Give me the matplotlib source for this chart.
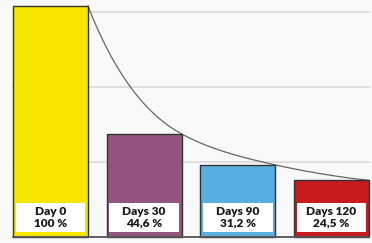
import numpy as np
import matplotlib
matplotlib.use("Agg")
import matplotlib.pyplot as plt
from matplotlib.patches import Rectangle

categories = ["Day 0", "Days 30", "Days 90", "Days 120"]
values = [100, 44.6, 31.2, 24.5]
value_labels = ["100 %", "44,6 %", "31,2 %", "24,5 %"]
colors = ["#f6e500", "#93557f", "#5aafe1", "#c71b1e"]
grid_values = [32.5, 65, 97.4]

W, H = 372, 243
fig = plt.figure(figsize=(W / 100, H / 100), dpi=100)
fig.patch.set_facecolor("#f9f9f9")
ax = fig.add_axes([13 / W, 6 / H, 356 / W, 231 / H])
ax.set_facecolor("#f9f9f9")

bw = 0.8
x = np.arange(len(values))
ax.set_xlim(-0.4, len(values) - 0.6)
ax.set_ylim(0, 100)

for g in grid_values:
    ax.axhline(g, color="#d9d9d9", lw=1.2, zorder=0, clip_on=False)

ax.bar(x, values, width=bw, color=colors, edgecolor="#333333", linewidth=1.0, zorder=2, clip_on=False)

# smooth monotone curve through the top-right corners
xs = x + bw / 2
ys = np.array(values, dtype=float)

def pchip(xk, yk, xq):
    h = np.diff(xk)
    d = np.diff(yk) / h
    n = len(xk)
    m = np.zeros(n)
    for k in range(1, n - 1):
        if d[k - 1] * d[k] > 0:
            w1 = 2 * h[k] + h[k - 1]
            w2 = h[k] + 2 * h[k - 1]
            m[k] = (w1 + w2) / (w1 / d[k - 1] + w2 / d[k])
    m[0] = ((2 * h[0] + h[1]) * d[0] - h[0] * d[1]) / (h[0] + h[1])
    m[-1] = ((2 * h[-1] + h[-2]) * d[-1] - h[-1] * d[-2]) / (h[-1] + h[-2])
    out = np.empty_like(xq)
    for i, xv in enumerate(xq):
        k = min(np.searchsorted(xk, xv, side="right") - 1, n - 2)
        k = max(k, 0)
        t = (xv - xk[k]) / h[k]
        h00 = 2 * t**3 - 3 * t**2 + 1
        h10 = t**3 - 2 * t**2 + t
        h01 = -2 * t**3 + 3 * t**2
        h11 = t**3 - t**2
        out[i] = h00 * yk[k] + h10 * h[k] * m[k] + h01 * yk[k + 1] + h11 * h[k] * m[k + 1]
    return out

xq = np.linspace(xs[0], xs[-1], 300)
yq = np.exp(pchip(xs, np.log(ys), xq))
ax.plot(xq, yq, color="#666666", lw=0.9, zorder=1, clip_on=False)

# label boxes
bh = 12.5
bb = 2.2
inset = 0.027
for xi, cat, lab in zip(x, categories, value_labels):
    ax.add_patch(Rectangle((xi - bw / 2 + inset, bb), bw - 2 * inset, bh,
                           facecolor="white", edgecolor="none", zorder=3))
    ax.text(xi, bb + bh / 2, f"{cat}\n{lab}", ha="center", va="center",
            fontsize=8.6, fontweight="heavy", family="Lato", color="#1a1a1a",
            linespacing=1.05, zorder=4)

ax.axhline(0, color="#555555", lw=1.3, zorder=5, clip_on=False)
for s in ax.spines.values():
    s.set_visible(False)
ax.set_xticks([])
ax.set_yticks([])

fig.savefig("out.png", dpi=100, facecolor=fig.get_facecolor())
